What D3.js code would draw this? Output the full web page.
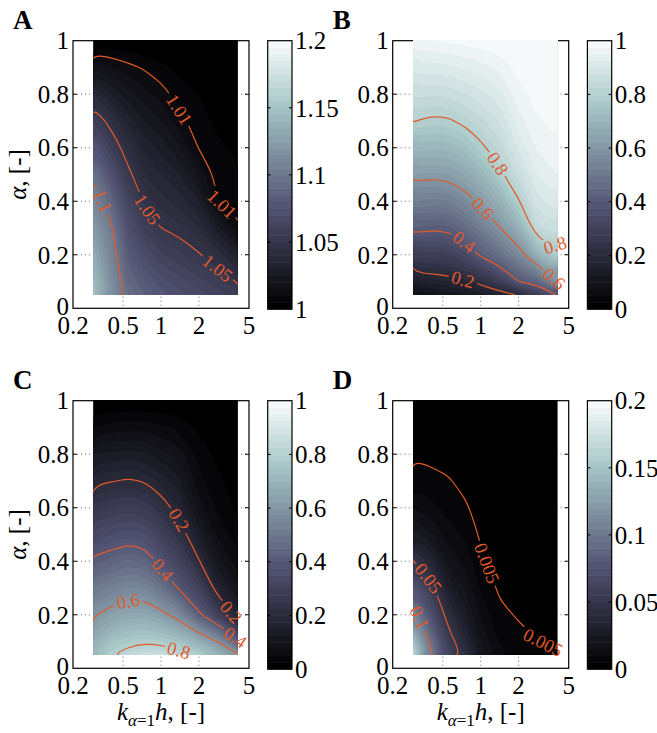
<!DOCTYPE html>
<html>
<head>
<meta charset="utf-8">
<script src="https://cdn.jsdelivr.net/npm/d3@7"></script>
<style>
  body { margin: 0; background: #fff; }
  text { font-family: "Liberation Serif", "Times New Roman", serif; }
</style>
</head>
<body>
<svg id="fig" width="657" height="733"></svg>
<script>
// grid the fields were read on: columns are k h, rows are alpha (top row first)
const khCols = [0.29, 0.4, 0.55, 0.75, 1, 1.4, 2, 2.8, 4.07];
const alphaRows = [1.0, 0.9, 0.8, 0.7, 0.6, 0.5, 0.4, 0.3, 0.2, 0.1, 0.05];

const xTicks = [0.2, 0.5, 1, 2, 5];
const yTicks = [0, 0.2, 0.4, 0.6, 0.8, 1];

// panel A
const valuesA = [
  [1.000, 1.000, 1.000, 1.000, 1.000, 1.000, 1.000, 1.000, 1.000],
  [1.020, 1.016, 1.012, 1.009, 1.006, 1.004, 1.002, 1.001, 1.001],
  [1.040, 1.030, 1.022, 1.017, 1.013, 1.007, 1.005, 1.003, 1.002],
  [1.060, 1.045, 1.033, 1.025, 1.020, 1.012, 1.007, 1.004, 1.003],
  [1.079, 1.060, 1.043, 1.033, 1.028, 1.021, 1.0095, 1.006, 1.004],
  [1.098, 1.075, 1.053, 1.040, 1.035, 1.030, 1.019, 1.0075, 1.006],
  [1.112, 1.090, 1.063, 1.048, 1.042, 1.038, 1.030, 1.0102, 1.008],
  [1.124, 1.103, 1.072, 1.058, 1.050, 1.047, 1.040, 1.027, 1.011],
  [1.135, 1.109, 1.081, 1.069, 1.061, 1.056, 1.051, 1.043, 1.031],
  [1.145, 1.115, 1.090, 1.080, 1.072, 1.067, 1.062, 1.057, 1.049],
  [1.150, 1.118, 1.095, 1.085, 1.078, 1.072, 1.067, 1.063, 1.058]
];
const levelsA = [1.01, 1.05, 1.1];
const cbTicksA = [1, 1.05, 1.1, 1.15, 1.2];
const labelsA = [[1.01, 1.4, 0.74], [1.01, 3.33, 0.367], [1.05, 0.74, 0.39], [1.05, 3.13, 0.137], [1.1, 0.33, 0.417]];

// panel B
const valuesB = [
  [0.970, 0.975, 0.980, 0.985, 0.990, 0.995, 0.995, 0.998, 0.998],
  [0.914, 0.914, 0.918, 0.928, 0.940, 0.955, 0.985, 0.993, 0.995],
  [0.859, 0.853, 0.856, 0.872, 0.891, 0.915, 0.965, 0.985, 0.990],
  [0.803, 0.788, 0.792, 0.815, 0.841, 0.875, 0.940, 0.972, 0.983],
  [0.716, 0.703, 0.707, 0.738, 0.786, 0.835, 0.905, 0.953, 0.970],
  [0.628, 0.617, 0.623, 0.654, 0.701, 0.780, 0.860, 0.925, 0.950],
  [0.529, 0.516, 0.522, 0.563, 0.617, 0.685, 0.794, 0.890, 0.920],
  [0.427, 0.411, 0.416, 0.459, 0.517, 0.594, 0.684, 0.845, 0.870],
  [0.295, 0.288, 0.296, 0.337, 0.413, 0.475, 0.561, 0.689, 0.790],
  [0.153, 0.163, 0.174, 0.191, 0.219, 0.288, 0.400, 0.441, 0.600],
  [0.080, 0.090, 0.113, 0.118, 0.140, 0.165, 0.200, 0.283, 0.400]
];
const levelsB = [0.2, 0.4, 0.6, 0.8];
const cbTicksB = [0, 0.2, 0.4, 0.6, 0.8, 1];
const labelsB = [[0.8, 1.28, 0.552], [0.8, 3.33, 0.224], [0.6, 0.99, 0.38], [0.6, 3.44, 0.118], [0.4, 0.81, 0.237], [0.2, 0.75, 0.112]];

// panel C
const valuesC = [
  [0, 0, 0, 0, 0, 0, 0, 0, 0],
  [0.050, 0.060, 0.068, 0.065, 0.056, 0.044, 0.020, 0.010, 0.005],
  [0.125, 0.131, 0.137, 0.131, 0.111, 0.087, 0.040, 0.020, 0.010],
  [0.188, 0.197, 0.206, 0.196, 0.167, 0.131, 0.060, 0.030, 0.015],
  [0.261, 0.273, 0.287, 0.274, 0.230, 0.175, 0.085, 0.045, 0.020],
  [0.337, 0.351, 0.368, 0.353, 0.303, 0.233, 0.140, 0.070, 0.035],
  [0.415, 0.435, 0.458, 0.441, 0.376, 0.311, 0.205, 0.110, 0.060],
  [0.503, 0.531, 0.555, 0.544, 0.488, 0.389, 0.305, 0.170, 0.100],
  [0.591, 0.631, 0.660, 0.658, 0.623, 0.562, 0.415, 0.298, 0.170],
  [0.677, 0.744, 0.772, 0.788, 0.777, 0.745, 0.681, 0.600, 0.419],
  [0.720, 0.795, 0.840, 0.870, 0.860, 0.830, 0.790, 0.700, 0.610]
];
const levelsC = [0.2, 0.4, 0.6, 0.8];
const cbTicksC = [0, 0.2, 0.4, 0.6, 0.8, 1];
const labelsC = [[0.2, 1.29, 0.554], [0.2, 3.39, 0.22], [0.4, 0.925, 0.38], [0.4, 3.75, 0.124], [0.6, 0.60, 0.237], [0.8, 1.33, 0.062]];

// panel D
const valuesD = [
  [0.001, 0.0007, 0.0005, 0.0003, 0.0002, 0.0001, 0, 0, 0],
  [0.002, 0.0015, 0.001, 0.0007, 0.0005, 0.0002, 0.0001, 0.0001, 0.0001],
  [0.0043, 0.0035, 0.003, 0.0018, 0.001, 0.0004, 0.0003, 0.0002, 0.0002],
  [0.008, 0.0067, 0.0055, 0.0035, 0.0018, 0.0007, 0.0005, 0.0004, 0.0003],
  [0.015, 0.0118, 0.0082, 0.0058, 0.0028, 0.0012, 0.0008, 0.0006, 0.0005],
  [0.028, 0.0207, 0.0124, 0.009, 0.0042, 0.0018, 0.0013, 0.0009, 0.0007],
  [0.051, 0.036, 0.019, 0.0135, 0.006, 0.0027, 0.002, 0.0014, 0.0011],
  [0.078, 0.056, 0.029, 0.019, 0.0095, 0.0042, 0.003, 0.0021, 0.0017],
  [0.113, 0.074, 0.044, 0.027, 0.014, 0.0062, 0.0045, 0.0032, 0.0026],
  [0.148, 0.097, 0.058, 0.038, 0.020, 0.0095, 0.0065, 0.0052, 0.0042],
  [0.170, 0.105, 0.065, 0.045, 0.024, 0.012, 0.008, 0.0065, 0.0056]
];
const levelsD = [0.005, 0.05, 0.1];
const cbTicksD = [0, 0.05, 0.1, 0.15, 0.2];
const labelsD = [[0.005, 1.06, 0.398], [0.005, 2.96, 0.087], [0.05, 0.377, 0.315], [0.1, 0.34, 0.18]];

const svg = d3.select("#fig");
const orange = "#e25a2a";
const W = 176, H = 267.6;      // axes box
const nBands = 40;

// MATLAB "bone" colormap
const boneR = d3.scaleLinear().domain([0, 0.746032, 1]).range([0, 0.652778, 1]);
const boneG = d3.scaleLinear().domain([0, 0.365079, 0.746032, 1]).range([0, 0.319444, 0.777778, 1]);
const boneB = d3.scaleLinear().domain([0, 0.365079, 1]).range([0, 0.444444, 1]);
function bone(t) {
  t = Math.max(0, Math.min(1, t));
  return d3.rgb(boneR(t) * 255, boneG(t) * 255, boneB(t) * 255).formatHex();
}

const panels = [
  {id: "A", values: valuesA, domain: [1, 1.2], levels: levelsA, cbTicks: cbTicksA, labels: labelsA, left: 73, top: 40.7, ylab: true, xlab: false},
  {id: "B", values: valuesB, domain: [0, 1], levels: levelsB, cbTicks: cbTicksB, labels: labelsB, left: 392.7, top: 40.7, ylab: false, xlab: false},
  {id: "C", values: valuesC, domain: [0, 1], levels: levelsC, cbTicks: cbTicksC, labels: labelsC, left: 73, top: 400.7, ylab: true, xlab: true},
  {id: "D", values: valuesD, domain: [0, 0.2], levels: levelsD, cbTicks: cbTicksD, labels: labelsD, left: 392.7, top: 400.7, ylab: false, xlab: true}
];

const fmt = v => String(+v.toFixed(4));

function drawPanel(p) {
  const x = d3.scaleLog().domain([0.2, 5]).range([p.left, p.left + W]);
  const y = d3.scaleLinear().domain([0, 1]).range([p.top + H, p.top]);
  const g = svg.append("g");
  const bottom = p.top + H;

  // dotted grid and inner ticks (under the field)
  g.selectAll(".gy").data(yTicks.slice(1, -1)).join("line")
    .attr("x1", p.left).attr("x2", p.left + W)
    .attr("y1", d => y(d)).attr("y2", d => y(d))
    .attr("stroke", "#444").attr("stroke-width", 0.8).attr("stroke-dasharray", "1,3");
  g.selectAll(".gx").data(xTicks.slice(1, -1)).join("line")
    .attr("x1", d => x(d)).attr("x2", d => x(d))
    .attr("y1", p.top).attr("y2", bottom)
    .attr("stroke", "#444").attr("stroke-width", 0.8).attr("stroke-dasharray", "1,3");
  yTicks.slice(1, -1).forEach(t => {
    g.append("line").attr("x1", p.left).attr("x2", p.left + 4).attr("y1", y(t)).attr("y2", y(t)).attr("stroke", "#000");
    g.append("line").attr("x1", p.left + W - 4).attr("x2", p.left + W).attr("y1", y(t)).attr("y2", y(t)).attr("stroke", "#000");
  });

  // axes box, drawn before the field: the field hides its top edge
  g.append("rect").attr("x", p.left).attr("y", p.top).attr("width", W).attr("height", H)
    .attr("fill", "none").attr("stroke", "#000").attr("stroke-width", 1.2);

  // field
  const nx = khCols.length, ny = alphaRows.length;
  const colPx = d3.scaleLinear().domain(d3.range(nx)).range(khCols.map(k => x(k)));
  const rowPx = d3.scaleLinear().domain(d3.range(ny)).range(alphaRows.map(a => y(a)));
  const toPx = ([gx, gy]) => [
    colPx(Math.max(0, Math.min(nx - 1, gx - 0.5))),
    rowPx(Math.max(0, Math.min(ny - 1, gy - 0.5)))
  ];
  // same, but points on the domain edge are pushed a little outside (hidden by the clip)
  const pad = 6;
  const toPxOut = pt => {
    const q = toPx(pt);
    if (pt[0] === 0) q[0] -= pad;
    if (pt[0] === nx) q[0] += pad;
    if (pt[1] === 0) q[1] -= pad;
    if (pt[1] === ny) q[1] += pad;
    return q;
  };
  const flat = p.values.flat();
  const [lo, hi] = p.domain;
  const step = (hi - lo) / nBands;
  const thresholds = d3.range(nBands).map(i => +(lo + i * step).toFixed(6));

  const x0 = x(khCols[0]), x1 = x(khCols[nx - 1]);
  const y0 = y(alphaRows[0]) - 0.6, y1 = y(alphaRows[ny - 1]);
  svg.append("clipPath").attr("id", "clip" + p.id)
    .append("rect").attr("x", x0).attr("y", y0).attr("width", x1 - x0).attr("height", y1 - y0);

  const field = g.append("g").attr("clip-path", `url(#clip${p.id})`);
  field.append("rect").attr("x", x0).attr("y", y0).attr("width", x1 - x0).attr("height", y1 - y0)
    .attr("fill", bone(0));
  const ring = d3.line().curve(d3.curveBasisClosed);
  const bands = d3.contours().size([nx, ny]).thresholds(thresholds)(flat);
  field.selectAll("path.band").data(bands).join("path")
    .attr("class", "band")
    .attr("d", c => c.coordinates.map(poly => poly.map(r => ring(r.slice(0, -1).map(toPxOut))).join("")).join(""))
    .attr("fill", c => bone((c.value - lo) / (hi - lo)))
    .attr("fill-rule", "evenodd");

  // contour lines: drop the pieces that run along the domain edge
  const onEdge = ([gx, gy]) => ({l: gx === 0, r: gx === nx, t: gy === 0, b: gy === ny});
  function isolines(level) {
    const mp = d3.contours().size([nx, ny]).thresholds([level])(flat)[0];
    const out = [];
    mp.coordinates.forEach(poly => poly.forEach(rg => {
      const n = rg.length - 1;
      const edgeSeg = i => {
        const a = onEdge(rg[i]), b = onEdge(rg[(i + 1) % n]);
        return (a.l && b.l) || (a.r && b.r) || (a.t && b.t) || (a.b && b.b);
      };
      let start = -1;
      for (let i = 0; i < n; i++) if (edgeSeg(i)) { start = i; break; }
      if (start < 0) { out.push({pts: rg.slice(0, -1).map(toPxOut), closed: true}); return; }
      let cur = null;
      for (let k = 1; k <= n; k++) {
        const i = (start + k) % n;
        if (edgeSeg(i)) { if (cur) { out.push({pts: cur, closed: false}); cur = null; } continue; }
        if (!cur) cur = [toPxOut(rg[i])];
        cur.push(toPxOut(rg[(i + 1) % n]));
      }
      if (cur) out.push({pts: cur, closed: false});
    }));
    return out;
  }

  const maskId = "mask" + p.id;
  const mask = svg.append("mask").attr("id", maskId).attr("maskUnits", "userSpaceOnUse")
    .attr("x", 0).attr("y", 0).attr("width", 657).attr("height", 733);
  mask.append("rect").attr("x", 0).attr("y", 0).attr("width", 657).attr("height", 733).attr("fill", "#fff");

  const openLine = d3.line().curve(d3.curveBasis);
  const linesG = g.append("g").attr("mask", `url(#${maskId})`).attr("clip-path", `url(#clip${p.id})`);
  const byLevel = {};
  p.levels.forEach(lv => {
    const ls = isolines(lv);
    byLevel[lv] = ls;
    ls.forEach(l => {
      linesG.append("path")
        .attr("d", l.closed ? ring(l.pts) : openLine(l.pts))
        .attr("fill", "none").attr("stroke", orange).attr("stroke-width", 1.2);
    });
  });

  // inline contour labels
  p.labels.forEach(([lv, kh, a]) => {
    const ax = x(kh), ay = y(a);
    let best = null;
    byLevel[lv].forEach(l => l.pts.forEach((pt, i) => {
      const d = (pt[0] - ax) ** 2 + (pt[1] - ay) ** 2;
      if (!best || d < best.d) best = {d, l, i};
    }));
    if (!best) return;
    const pts = best.l.pts;
    const i = best.i;
    const pa = pts[Math.max(0, i - 1)], pb = pts[Math.min(pts.length - 1, i + 1)];
    let ang = Math.atan2(pb[1] - pa[1], pb[0] - pa[0]) * 180 / Math.PI;
    if (ang > 90) ang -= 180;
    if (ang < -90) ang += 180;
    // the basis curve passes near (a + 4p + b) / 6
    const cx = (pa[0] + 4 * pts[i][0] + pb[0]) / 6, cy = (pa[1] + 4 * pts[i][1] + pb[1]) / 6;
    const t = g.append("text")
      .attr("transform", `translate(${cx},${cy}) rotate(${ang})`)
      .attr("text-anchor", "middle").attr("dy", "0.35em")
      .attr("font-size", 18.5).attr("fill", orange)
      .text(fmt(lv));
    const len = t.node().getComputedTextLength();
    mask.append("rect")
      .attr("x", -len / 2 - 3).attr("y", -8).attr("width", len + 6).attr("height", 16)
      .attr("transform", `translate(${cx},${cy}) rotate(${ang})`)
      .attr("fill", "#000");
  });

  // tick labels
  g.selectAll(".yl").data(yTicks).join("text")
    .attr("x", p.left - 4).attr("y", d => y(d) - (d === 0 ? 2 : 0)).attr("dy", "0.35em")
    .attr("text-anchor", "end").attr("font-size", 25).text(fmt);
  g.selectAll(".xl").data(xTicks).join("text")
    .attr("x", d => x(d)).attr("y", bottom + 26)
    .attr("text-anchor", "middle").attr("font-size", 25).text(fmt);

  // colorbar
  const cbX = p.left + 194.7, cbW = 24.3;
  const cy = d3.scaleLinear().domain([lo, hi]).range([bottom + 0.8, p.top]);
  g.selectAll(".cb").data(d3.range(nBands)).join("rect")
    .attr("x", cbX).attr("width", cbW)
    .attr("y", i => cy(lo + (i + 1) * step))
    .attr("height", i => cy(lo + i * step) - cy(lo + (i + 1) * step) + 0.5)
    .attr("fill", i => bone(i / nBands));
  g.append("rect").attr("x", cbX).attr("y", cy(hi)).attr("width", cbW).attr("height", cy(lo) - cy(hi))
    .attr("fill", "none").attr("stroke", "#000").attr("stroke-width", 1.2);
  p.cbTicks.forEach(v => {
    if (v > lo && v < hi) {
      g.append("line").attr("x1", cbX).attr("x2", cbX + 3).attr("y1", cy(v)).attr("y2", cy(v)).attr("stroke", "#000");
      g.append("line").attr("x1", cbX + cbW - 3).attr("x2", cbX + cbW).attr("y1", cy(v)).attr("y2", cy(v)).attr("stroke", "#000");
    }
    g.append("text").attr("x", cbX + cbW + 3).attr("y", cy(v)).attr("dy", "0.35em")
      .attr("font-size", 25).text(fmt(v));
  });

  // panel letter
  g.append("text").attr("x", p.left - 60).attr("y", p.top - 12)
    .attr("font-size", 27).attr("font-weight", "bold").text(p.id);

  if (p.ylab) {
    const t = g.append("text")
      .attr("transform", `translate(26,${p.top + H / 2}) rotate(-90)`)
      .attr("text-anchor", "middle").attr("font-size", 25);
    t.append("tspan").attr("font-style", "italic").text("α");
    t.append("tspan").text(", [-]");
  }
  if (p.xlab) {
    const t = g.append("text")
      .attr("x", p.left + W / 2).attr("y", bottom + 52)
      .attr("text-anchor", "middle").attr("font-size", 25);
    t.append("tspan").attr("font-style", "italic").text("k");
    t.append("tspan").attr("dy", 6).attr("font-size", 17).attr("font-style", "italic").text("α");
    t.append("tspan").attr("font-size", 17).text("=1");
    t.append("tspan").attr("dy", -6).attr("font-style", "italic").text("h");
    t.append("tspan").text(", [-]");
  }
}

panels.forEach(drawPanel);
</script>
</body>
</html>
